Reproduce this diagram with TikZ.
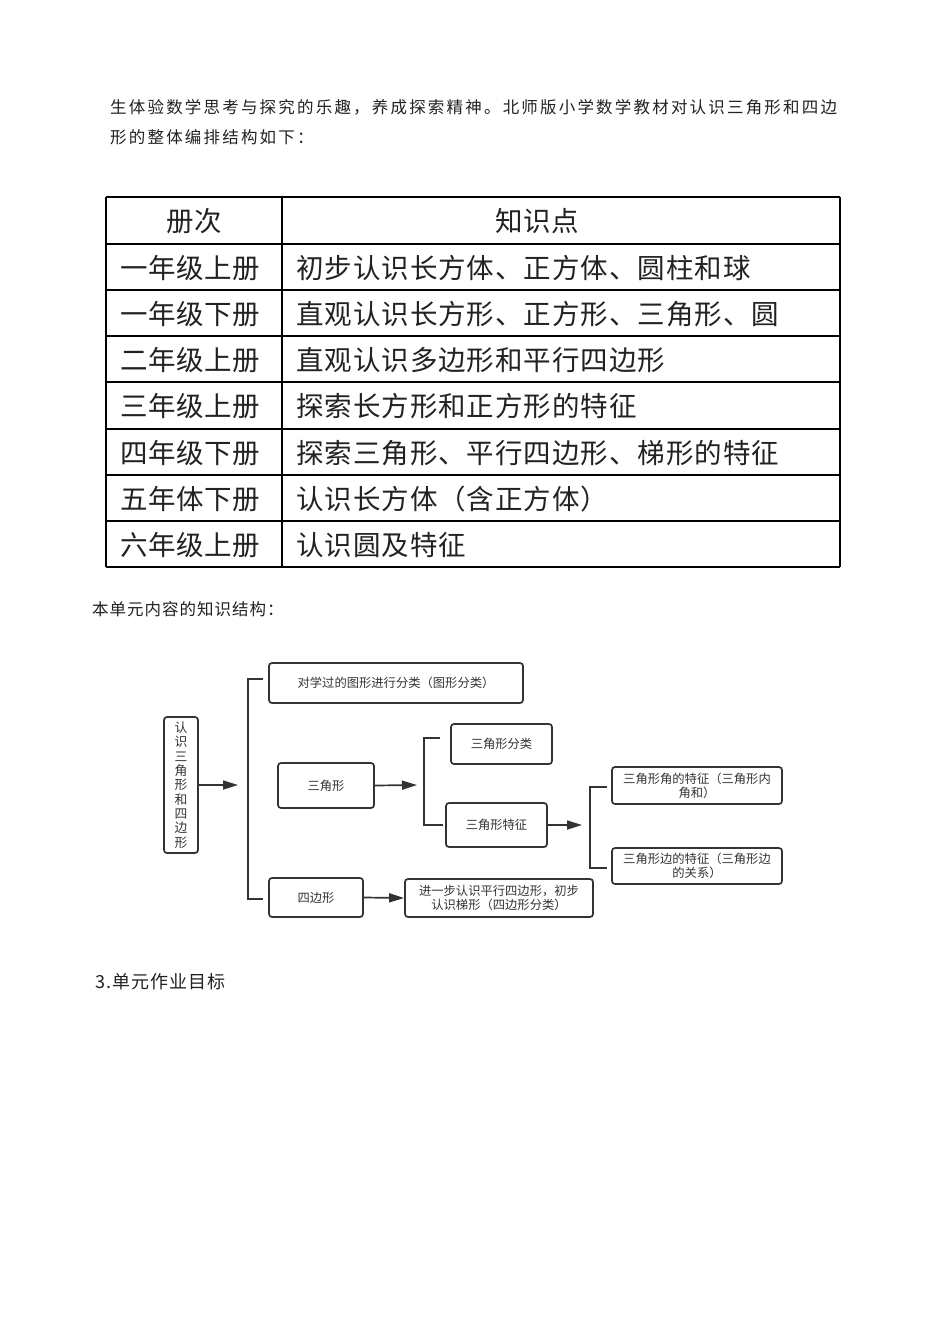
\documentclass[tikz,border=0pt]{standalone}
\usepackage{fontspec}
\newfontfamily\cjk{Noto Sans CJK SC}
\newfontfamily\cjkpar[LetterSpace=13.3]{Noto Sans CJK SC}
\newfontfamily\cjkcell[LetterSpace=2]{Noto Sans CJK SC}
\newfontfamily\cjkcellb[LetterSpace=3.5]{Noto Sans CJK SC}
\newfontfamily\cjkhead[LetterSpace=6]{Noto Sans CJK SC}
\usetikzlibrary{arrows.meta}
\definecolor{ln}{HTML}{333333}
\definecolor{tx}{HTML}{222222}
\tikzset{
  para/.style={anchor=west, inner sep=0pt, text=tx, font=\cjkpar\fontsize{16.5}{18}\selectfont},
  cell/.style={inner sep=0pt, text=tx, font=\cjkcell\fontsize{27.5}{30}\selectfont},
  cellb/.style={inner sep=0pt, anchor=west, text=tx, font=\cjkcellb\fontsize{27.5}{30}\selectfont},
  rule/.style={draw=black, line width=1.4pt},
  box/.style={draw=ln, line width=1.7pt, rounded corners=3pt, text=ln, inner sep=0pt, align=center,
    font=\cjk\fontsize{12.3}{14}\selectfont},
  arr/.style={draw=ln, line width=1.7pt, -{Triangle[length=15pt,width=9pt]}},
  brk/.style={draw=ln, line width=1.7pt}
}
\begin{document}
\begin{tikzpicture}[x=1pt,y=-1pt]
\fill[white] (0,0) rectangle (950,1344);
\useasboundingbox (0,0) rectangle (950,1344);

% paragraph
\node[para] (p1) at (110,107) {生体验数学思考与探究的乐趣，养成探索精神。北师版小学数学教材对认识三角形和四边};
\node[para] (p2) at (110,137) {形的整体编排结构如下：};

% table
\foreach \yy in {197,244,290,336,382,429,475,521,567}
  \draw[rule] (106,\yy) -- (840,\yy);
\draw[rule] (106,197) -- (106,567);
\draw[rule] (282,197) -- (282,567);
\draw[rule] (840,197) -- (840,567);

\node[cell] (h1) at (194,221) {册次};
\node[cell] (h2) at (537,221) {知识点};
\node[cell] (r1a) at (190,268) {一年级上册};
\node[cellb] (r1b) at (296,268) {初步认识长方体、正方体、圆柱和球};
\node[cell] (r2a) at (190,314) {一年级下册};
\node[cellb] (r2b) at (296,314) {直观认识长方形、正方形、三角形、圆};
\node[cell] (r3a) at (190,360) {二年级上册};
\node[cellb] (r3b) at (296,360) {直观认识多边形和平行四边形};
\node[cell] (r4a) at (190,406) {三年级上册};
\node[cellb] (r4b) at (296,406) {探索长方形和正方形的特征};
\node[cell] (r5a) at (190,453) {四年级下册};
\node[cellb] (r5b) at (296,453) {探索三角形、平行四边形、梯形的特征};
\node[cell] (r6a) at (190,499) {五年体下册};
\node[cellb] (r6b) at (296,499) {认识长方体（含正方体）};
\node[cell] (r7a) at (190,545) {六年级上册};
\node[cellb] (r7b) at (296,545) {认识圆及特征};

\node[para, font=\cjkhead\fontsize{16.5}{18}\selectfont] (p3) at (92,609) {本单元内容的知识结构：};

% diagram
\node[box, minimum width=34pt, minimum height=136pt, font=\cjk\fontsize{12.8}{14.3}\selectfont] (root) at (181,785)
  {认\\识\\三\\角\\形\\和\\四\\边\\形};
\node[box, minimum width=254pt, minimum height=40pt] (cls) at (396,683) {对学过的图形进行分类（图形分类）};
\node[box, minimum width=96pt, minimum height=45pt] (tri) at (326,785.5) {三角形};
\node[box, minimum width=101pt, minimum height=40pt] (tricls) at (501.5,744) {三角形分类};
\node[box, minimum width=101pt, minimum height=44pt] (trifeat) at (496.5,825) {三角形特征};
\node[box, minimum width=94pt, minimum height=39pt] (quad) at (316,897.5) {四边形};
\node[box, minimum width=188pt, minimum height=38pt] (quadtxt) at (499,898) {进一步认识平行四边形，初步\\认识梯形（四边形分类）};
\node[box, minimum width=170pt, minimum height=37pt] (ang) at (697,785.5) {三角形角的特征（三角形内\\角和）};
\node[box, minimum width=170pt, minimum height=36pt] (side) at (697,866) {三角形边的特征（三角形边\\的关系）};

\coordinate (b1a) at (238,785);
\coordinate (b1t) at (263,679);
\coordinate (b1b) at (263,899);
\coordinate (b2a) at (417,785);
\coordinate (b2t) at (440,738);
\coordinate (b2b) at (443,825);
\coordinate (b3a) at (582,825);
\coordinate (b3t) at (607,787);
\coordinate (b3b) at (607,868);

\draw[arr] (root.east) -- (b1a);
\draw[brk] (b1t) -- ++(-15,0) |- (b1b);
\draw[arr] (tri.east) -- (b2a);
\draw[brk] (b2t) -- ++(-16,0) |- (b2b);
\draw[arr] (trifeat.east) -- (b3a);
\draw[brk] (b3t) -- ++(-17,0) |- (b3b);
\draw[arr] (quad.east) -- (quadtxt.west);

\node[anchor=west, inner sep=0pt, text=tx, font=\cjkhead\fontsize{18}{20}\selectfont] (p4) at (95,982) {3.单元作业目标};
\end{tikzpicture}
\end{document}
